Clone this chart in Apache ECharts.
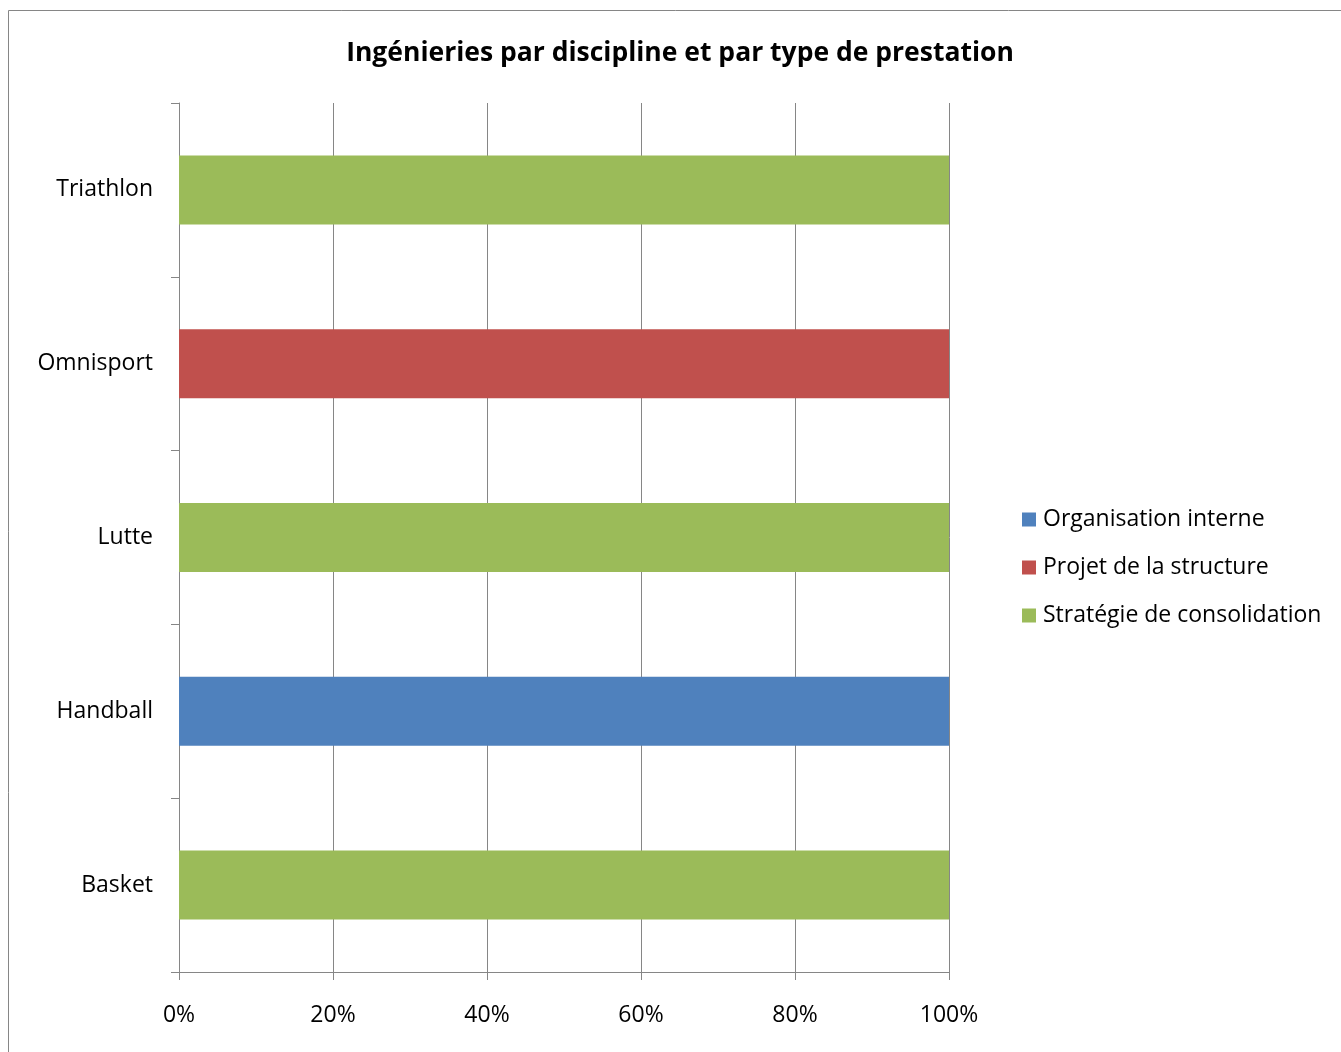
<!DOCTYPE html>
<html><head><meta charset="utf-8">
<style>html,body{margin:0;padding:0;background:#fff;}#c{width:1341px;height:1052px;}</style>
<script src="https://cdn.jsdelivr.net/npm/echarts@6/dist/echarts.min.js"></script>
</head><body><div id="c"></div>
<script>
const categories = ["Basket", "Handball", "Lutte", "Omnisport", "Triathlon"];
const seriesNames = ["Organisation interne", "Projet de la structure", "Stratégie de consolidation"];
const organisationInterne = [0, 100, 0, 0, 0];
const projetStructure = [0, 0, 0, 100, 0];
const strategieConsolidation = [100, 0, 100, 0, 100];
const xTicks = [0, 20, 40, 60, 80, 100];
const colors = ["#4F81BD", "#C0504D", "#9BBB59"];
const FONT = "Open Sans";

const chart = echarts.init(document.getElementById('c'));
const dataSets = [organisationInterne, projetStructure, strategieConsolidation];
chart.setOption({
  animation: false,
  textStyle: {fontFamily: FONT},
  title: {
    text: "Ingénieries par discipline et par type de prestation",
    left: 675, top: 35, textAlign: 'center',
    textStyle: {fontFamily: FONT, fontWeight: 'bold', fontSize: 26.5, color: '#000'}
  },
  graphic: [{
    type: 'rect', silent: true,
    shape: {x: 8.5, y: 10.5, width: 1400, height: 1100},
    style: {fill: 'none', stroke: '#868686', lineWidth: 1}
  }],
  legend: {
    orient: 'vertical', left: 1017, top: 503,
    itemWidth: 14, itemHeight: 14, itemGap: 25,
    icon: 'rect',
    data: seriesNames,
    textStyle: {fontFamily: FONT, fontSize: 23, color: '#000', padding: [0, 0, 0, 2]}
  },
  grid: {left: 179, right: 392, top: 103, bottom: 80, containLabel: false},
  xAxis: {
    type: 'value', min: 0, max: 100, interval: 20,
    axisLine: {show: true, lineStyle: {color: '#868686', width: 1}},
    axisTick: {show: true, length: 8, lineStyle: {color: '#868686'}},
    splitLine: {show: true, lineStyle: {color: '#868686', width: 1}},
    axisLabel: {formatter: v => xTicks.includes(v) ? v + '%' : '', fontSize: 23, color: '#000', margin: 32, fontFamily: FONT}
  },
  yAxis: {
    type: 'category', data: categories,
    axisLine: {show: true, lineStyle: {color: '#868686', width: 1}},
    axisTick: {show: true, length: 8, lineStyle: {color: '#868686'}},
    axisLabel: {fontSize: 23, color: '#000', margin: 26, fontFamily: FONT, padding: [7, 0, 0, 0]}
  },
  series: seriesNames.map((n, i) => ({
    name: n, type: 'bar', stack: 'total', data: dataSets[i],
    barWidth: 69,
    itemStyle: {color: colors[i]}
  }))
});
</script></body></html>
